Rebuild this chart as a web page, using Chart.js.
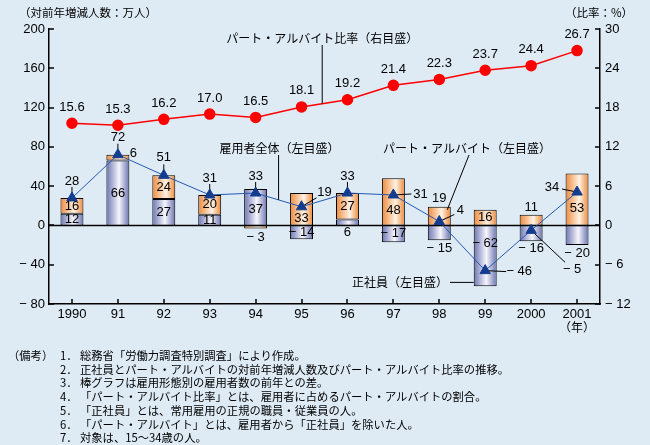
<!DOCTYPE html>
<html><head><meta charset="utf-8">
<script src="https://cdn.jsdelivr.net/npm/chart.js@4"></script>
<style>
html,body{margin:0;padding:0;background:#DEEBF5;}
#wrap{position:relative;width:650px;height:445px;background:#DEEBF5;overflow:hidden;}
#c{position:absolute;left:0;top:0;}
.row{position:absolute;white-space:nowrap;font:11.3px "Noto Sans CJK JP";line-height:13px;color:#000;}
</style></head><body>
<div id="wrap"><canvas id="c" width="650" height="445"></canvas><div id="notes"></div></div>
<script>
// ---- data ----
const years = ['1990','91','92','93','94','95','96','97','98','99','2000','2001'];
const regular = [12, 66, 27, 11, 37, -14, 6, -17, -15, -62, -16, -20];   // 正社員
const partTime = [16, 6, 24, 20, -3, 33, 27, 48, 19, 16, 11, 53];       // パート・アルバイト
const total = [28, 72, 51, 31, 33, 19, 33, 31, 4, -46, -5, 34];          // 雇用者全体
const ratio = [15.6, 15.3, 16.2, 17.0, 16.5, 18.1, 19.2, 21.4, 22.3, 23.7, 24.4, 26.7]; // パート・アルバイト比率
const leftTicks = [-80, 200, 40];
const rightTicks = [-12, 30, 6];
const noteHead = '（備考）';
const notes = [
 '総務省「労働力調査特別調査」により作成。',
 '正社員とパート・アルバイトの対前年増減人数及びパート・アルバイト比率の推移。',
 '棒グラフは雇用形態別の雇用者数の前年との差。',
 '「パート・アルバイト比率」とは、雇用者に占めるパート・アルバイトの割合。',
 '「正社員」とは、常用雇用の正規の職員・従業員の人。',
 '「パート・アルバイト」とは、雇用者から「正社員」を除いた人。',
 '対象は、15～34歳の人。'
];

// ---- label placement (style) ----
const totPlace = [
 [[0,-17],[0,-11]],[[0,-17],[0,-11]],[[0,-18],[0,-11]],[[0,-17],[0,-11]],[[0,-17],[0,-11]],
 [[23,-14],[15,-9]],[[0,-17],[0,-11]],[[27,-1],[18,-1]],[[21,-11],[15,-7]],
 [[34,1],[21,1]],[[41,39],[34,32]],[[-25,-5],[-15,-3]]
];
const regPlace = [['c',0],['c',0],['c',0],['c',0],['c',2],['c',0],['base',7],['c',0],['out',8],['fix',-18],['out',7],['out',8]];
const partPlace = [['c',1],['right',-4],['c',0],['c',0],['out',9],['c',9],['c',0],['c',9],['out',8],['c',0],['out',7],['c',9]];

const fmt = v => v < 0 ? '\u2212 ' + Math.abs(v) : String(v);
const NUMF = '13px "Liberation Sans", Arial, sans-serif';
const JPF = '"Noto Sans CJK JP", sans-serif';

function barGrad(ctx, stops, fallback) {
  const chart = ctx.chart;
  if (!chart.chartArea || ctx.dataIndex === undefined) return fallback;
  const xs = chart.scales.x;
  const cx = xs.getPixelForValue(ctx.dataIndex);
  const w = (xs.getPixelForValue(1) - xs.getPixelForValue(0)) * 0.5;
  const g = chart.ctx.createLinearGradient(cx - w / 2, 0, cx + w / 2, 0);
  stops.forEach(s => g.addColorStop(s[0], s[1]));
  return g;
}
const blueStops = [[0,'#6C74B2'],[0.55,'#F6F6FC'],[1,'#6A72B0']];
const orangeStops = [[0,'#EE8A3A'],[0.6,'#FFF2E4'],[1,'#EC8836']];

const plugin = {
  id: 'custom',
  beforeDatasetsDraw(chart) {
    const {ctx, chartArea: a, scales: {y}} = chart;
    const y0 = y.getPixelForValue(0);
    ctx.save(); ctx.strokeStyle = '#000'; ctx.lineWidth = 1.5;
    ctx.beginPath(); ctx.moveTo(a.left, y0); ctx.lineTo(a.right, y0); ctx.stroke(); ctx.restore();
  },
  beforeDatasetDraw(chart, args) {
    if (args.index !== 2) return;
    const ctx = chart.ctx; const meta = chart.getDatasetMeta(2);
    ctx.save(); ctx.strokeStyle = '#000'; ctx.lineWidth = 1;
    meta.data.forEach((p, i) => {
      const e = totPlace[i][1];
      ctx.beginPath(); ctx.moveTo(p.x, p.y); ctx.lineTo(p.x + e[0], p.y + e[1]); ctx.stroke();
    });
    ctx.restore();
  },
  afterDraw(chart) {
    const {ctx, chartArea: a, scales: {x, y, y2}} = chart;
    ctx.save();
    ctx.strokeStyle = '#000'; ctx.lineWidth = 1.5;
    y.ticks.forEach(t => { const p = Math.round(y.getPixelForValue(t.value)); ctx.beginPath(); ctx.moveTo(a.left, p); ctx.lineTo(a.left + 5, p); ctx.stroke(); });
    y2.ticks.forEach(t => { const p = Math.round(y2.getPixelForValue(t.value)); ctx.beginPath(); ctx.moveTo(a.right - 5, p); ctx.lineTo(a.right, p); ctx.stroke(); });
    years.forEach((_, i) => { const p = Math.round(x.getPixelForValue(i)); ctx.beginPath(); ctx.moveTo(p, a.bottom); ctx.lineTo(p, a.bottom - 5); ctx.stroke(); });

    ctx.fillStyle = '#000'; ctx.textAlign = 'center'; ctx.textBaseline = 'middle'; ctx.font = NUMF;
    chart.getDatasetMeta(3).data.forEach((p, i) => ctx.fillText(ratio[i].toFixed(1), p.x, p.y - 16));
    chart.getDatasetMeta(2).data.forEach((p, i) => { const d = totPlace[i][0]; ctx.fillText(fmt(total[i]), p.x + d[0], p.y + d[1]); });
    const barLab = (di, vals, place) => {
      chart.getDatasetMeta(di).data.forEach((b, i) => {
        const pr = b.getProps(['x', 'y', 'base', 'width'], true);
        const [m, dy] = place[i]; let tx = pr.x, ty;
        if (m === 'c') ty = (pr.y + pr.base) / 2 + dy;
        else if (m === 'out') ty = vals[i] >= 0 ? pr.y - dy : pr.y + dy;
        else if (m === 'base') ty = y.getPixelForValue(0) + dy;
        else if (m === 'fix') ty = y.getPixelForValue(dy);
        else if (m === 'right') { tx = pr.x + pr.width / 2 + 4; ty = (pr.y + pr.base) / 2 + dy; }
        ctx.fillText(fmt(vals[i]), tx, ty);
      });
    };
    barLab(0, regular, regPlace);
    barLab(1, partTime, partPlace);

    ctx.lineWidth = 1;
    const step = x.getPixelForValue(1) - x.getPixelForValue(0);
    const xa = x.getPixelForValue(5) + 0.45 * step;
    const ya = y2.getPixelForValue(ratio[5] + 0.45 * (ratio[6] - ratio[5]));
    ctx.font = '12px ' + JPF;
    ctx.fillText('パート・アルバイト比率（右目盛）', xa, 38);
    ctx.beginPath(); ctx.moveTo(xa, 45); ctx.lineTo(xa, ya); ctx.stroke();
    const xb = x.getPixelForValue(4) + 0.5 * step;
    const yb = y.getPixelForValue(total[4] + 0.5 * (total[5] - total[4]));
    ctx.fillText('雇用者全体（左目盛）', xb + 1, 148);
    ctx.beginPath(); ctx.moveTo(xb, 155); ctx.lineTo(xb, yb); ctx.stroke();
    const xc = x.getPixelForValue(8) + 8, yc = y.getPixelForValue(partTime[8] - 3);
    ctx.fillText('パート・アルバイト（左目盛）', 467, 148);
    ctx.beginPath(); ctx.moveTo(469, 155); ctx.lineTo(xc, yc); ctx.stroke();
    const bar9 = chart.getDatasetMeta(0).data[9].getProps(['x', 'width'], true);
    const yd = y.getPixelForValue(-58);
    ctx.textAlign = 'right';
    ctx.fillText('正社員（左目盛）', 448, yd);
    ctx.beginPath(); ctx.moveTo(450, yd); ctx.lineTo(bar9.x - bar9.width / 2, yd); ctx.stroke();
    ctx.font = '11.5px ' + JPF;
    ctx.textAlign = 'left';
    ctx.fillText('（対前年増減人数：万人）', 19, 13);
    ctx.fillText('（比率：%）', 565, 13);
    ctx.textAlign = 'center';
    ctx.font = '12px ' + JPF;
    ctx.fillText('（年）', x.getPixelForValue(11), 327);
    ctx.restore();
  }
};

new Chart(document.getElementById('c'), {
  data: {
    labels: years,
    datasets: [
      { type: 'bar', label: '正社員', data: regular, stack: 's', order: 2,
        backgroundColor: c => barGrad(c, blueStops, '#B0B4DA'), borderColor: '#000', borderWidth: 1, borderSkipped: false,
        categoryPercentage: 1, barPercentage: 0.5 },
      { type: 'bar', label: 'パート・アルバイト', data: partTime, stack: 's', order: 2,
        backgroundColor: c => barGrad(c, orangeStops, '#F5C08A'), borderColor: '#000', borderWidth: 1, borderSkipped: false,
        categoryPercentage: 1, barPercentage: 0.5 },
      { type: 'line', label: '雇用者全体', data: total, stack: 't', order: 1, yAxisID: 'y',
        borderColor: '#2458B0', borderWidth: 1, pointStyle: 'triangle', pointRadius: 6,
        pointBackgroundColor: '#143C8E', pointBorderColor: '#143C8E', pointBorderWidth: 1 },
      { type: 'line', label: 'パート・アルバイト比率', data: ratio, stack: 'r', order: 0, yAxisID: 'y2',
        borderColor: '#FF0000', borderWidth: 1.5, pointRadius: 5,
        pointBackgroundColor: '#FF0000', pointBorderColor: '#FF0000' }
    ]
  },
  options: {
    responsive: false, animation: false, devicePixelRatio: 1,
    layout: { padding: { top: 29, left: 0, right: 0, bottom: 0 } },
    plugins: { legend: { display: false }, tooltip: { enabled: false } },
    scales: {
      x: { stacked: true, afterFit: s => { s.height = 141; },
        grid: { display: false, drawTicks: false }, border: { display: true, color: '#000', width: 1.5 },
        ticks: { color: '#000', font: { family: '"Liberation Sans", Arial', size: 13 }, padding: 3, maxRotation: 0, autoSkip: false } },
      y: { stacked: true, position: 'left', min: leftTicks[0], max: leftTicks[1], afterFit: s => { s.width = 49; },
        grid: { display: false, drawTicks: false }, border: { display: true, color: '#000', width: 1.5 },
        ticks: { stepSize: leftTicks[2], color: '#000', font: { family: '"Liberation Sans", Arial', size: 13 }, padding: 4, callback: v => fmt(v) } },
      y2: { position: 'right', min: rightTicks[0], max: rightTicks[1], afterFit: s => { s.width = 50; },
        grid: { display: false, drawTicks: false }, border: { display: true, color: '#000', width: 1.5 },
        ticks: { stepSize: rightTicks[2], color: '#000', font: { family: '"Liberation Sans", Arial', size: 13 }, padding: 5, callback: v => fmt(v) } }
    }
  },
  plugins: [plugin]
});

const nw = document.getElementById('notes');
const addRow = (txt, left, top) => { const d = document.createElement('div'); d.className = 'row'; d.style.left = left + 'px'; d.style.top = top + 'px'; d.textContent = txt; nw.appendChild(d); };
addRow(noteHead, 8, 349);
notes.forEach((t, i) => { addRow((i + 1) + '．', 60, 349 + i * 13.7); addRow(t, 80, 349 + i * 13.7); });
</script>
</body></html>
